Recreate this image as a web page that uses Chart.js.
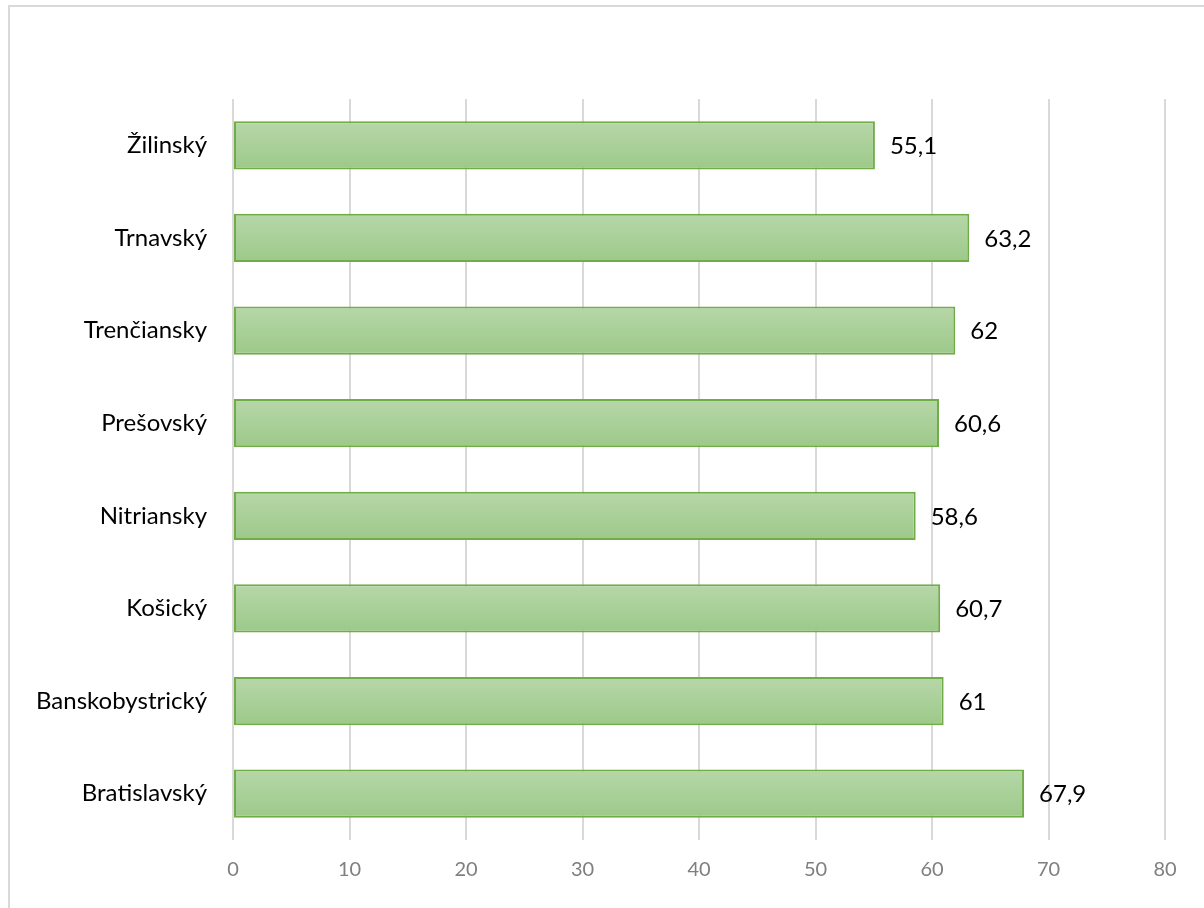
<!DOCTYPE html>
<html>
<head>
<meta charset="utf-8">
<script src="https://cdn.jsdelivr.net/npm/chart.js@4/dist/chart.umd.min.js"></script>
<style>
    body { margin: 0; background: #fff; overflow: hidden; }
    #frame { position: absolute; left: 8px; top: 5px; width: 1300px; height: 1000px; border: 2px solid #d9d9d9; }
    #wrap { position: absolute; left: 0; top: 0; width: 1204px; height: 908px; }
</style>
</head>
<body>
<div id="frame"></div>
<div id="wrap"><canvas id="regionChart" width="1204" height="908"></canvas></div>
<script>
const regions = ['Žilinský', 'Trnavský', 'Trenčiansky', 'Prešovský', 'Nitriansky', 'Košický', 'Banskobystrický', 'Bratislavský'];
const values = [55.1, 63.2, 62, 60.6, 58.6, 60.7, 61, 67.9];
const xTicks = [0, 10, 20, 30, 40, 50, 60, 70, 80];

const FONT = 'Lato, "Liberation Sans", sans-serif';

// per-bar vertical gradient, like the Excel fill
function barGradient(context) {
    const chart = context.chart;
    if (!chart.chartArea || !chart.scales.y) return '#aad09a';
    const yScale = chart.scales.y;
    const cy = yScale.getPixelForValue(context.dataIndex);
    const half = yScale.height / regions.length / 4;
    const g = chart.ctx.createLinearGradient(0, cy - half, 0, cy + half);
    g.addColorStop(0, '#b6d7a8');
    g.addColorStop(1, '#9dc98a');
    return g;
}

// value labels to the right of each bar
const valueLabels = {
    id: 'valueLabels',
    afterDatasetsDraw(chart) {
        const ctx = chart.ctx;
        const meta = chart.getDatasetMeta(0);
        ctx.save();
        ctx.font = '24px ' + FONT;
        ctx.fillStyle = '#000';
        ctx.textAlign = 'left';
        ctx.textBaseline = 'middle';
        meta.data.forEach((bar, i) => {
            ctx.fillText(String(values[i]).replace('.', ','), bar.x + 15, bar.y + 1);
        });
        ctx.restore();
    }
};

const ctx = document.getElementById('regionChart').getContext('2d');
new Chart(ctx, {
    type: 'bar',
    data: {
        labels: regions,
        datasets: [{
            data: values,
            backgroundColor: barGradient,
            borderColor: '#70ad47',
            borderWidth: 2,
            borderSkipped: false,
            barPercentage: 0.52,
            categoryPercentage: 1
        }]
    },
    options: {
        indexAxis: 'y',
        responsive: false,
        animation: false,
        layout: { padding: { top: 99, right: 39, bottom: 0, left: 0 } },
        plugins: {
            legend: { display: false },
            tooltip: { enabled: false }
        },
        scales: {
            x: {
                min: 0,
                max: 80,
                afterBuildTicks: scale => { scale.ticks = xTicks.map(v => ({ value: v })); },
                afterFit: scale => { scale.height = 68; },
                grid: { color: '#d9d9d9', lineWidth: 2, drawTicks: false },
                border: { display: false },
                ticks: { color: '#7f7f7f', font: { family: FONT, size: 20 }, padding: 18 }
            },
            y: {
                afterFit: scale => { scale.width = 233; },
                grid: { display: false, drawTicks: false },
                border: { display: false },
                ticks: { color: '#000', font: { family: FONT, size: 24 }, padding: 26 }
            }
        }
    },
    plugins: [valueLabels]
});
</script>
</body>
</html>
